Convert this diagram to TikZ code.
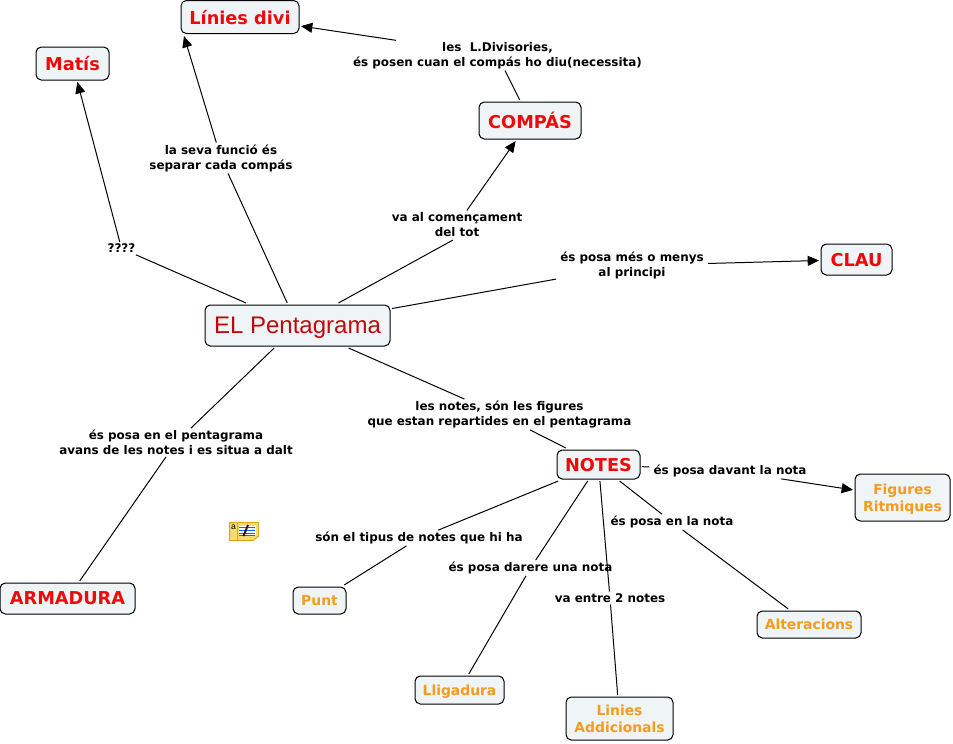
\documentclass[tikz,border=0pt]{standalone}
\usepackage{fontspec}
\setmainfont{DejaVu Sans}
\newfontfamily\pentfont{Liberation Sans}
\usetikzlibrary{arrows.meta}

\definecolor{boxfill}{HTML}{EFF4F6}
\definecolor{notered}{HTML}{EE0A0A}
\definecolor{noteorange}{HTML}{F59B1E}
\definecolor{pentred}{HTML}{BE0A0A}
\definecolor{iconyellow}{HTML}{F8DC70}
\definecolor{iconedge}{HTML}{D8A818}

\begin{document}
\begin{tikzpicture}[x=0.75pt,y=-0.75pt,
	concept/.style 2 args={draw=black,fill=boxfill,rounded corners=4pt,line width=0.75pt,outer sep=1.5pt,align=center,inner sep=0pt,text depth=0pt,minimum width=#1*0.75pt,minimum height=#2*0.75pt},
	mainc/.style={text=notered,font=\fontsize{13.3}{15}\selectfont\bfseries},
	subc/.style={text=noteorange,font=\fontsize{10.4}{12.4}\selectfont\bfseries},
	link/.style={align=center,inner xsep=3pt,inner ysep=1.2pt,font=\fontsize{8.95}{11.3}\selectfont\bfseries},
	line/.style={line width=0.75pt},
	arrow/.style={line width=0.75pt,-{Triangle[length=8.5pt,width=7.5pt]}}]
	\useasboundingbox (0,0) rectangle (953,743);

	% Concepts
	\node[concept={185}{41},text=pentred,font=\fontsize{18}{20}\pentfont] (pent) at (297.5,325.5) {EL Pentagrama};
	\node[concept={73}{33},mainc] (matis) at (72.5,63.5) {Matís};
	\node[concept={118}{33},mainc] (linies) at (240,17) {Línies divi};
	\node[concept={102}{37},mainc] (compas) at (530,120.5) {COMPÁS};
	\node[concept={71}{31},mainc] (clau) at (856.5,259.5) {CLAU};
	\node[concept={83}{29},mainc] (notes) at (598.5,464.5) {NOTES};
	\node[concept={135}{31},mainc] (armadura) at (67.5,598.5) {ARMADURA};
	\node[concept={95}{47},subc] (figures) at (902.5,497.5) {Figures\\Ritmiques};
	\node[concept={104}{27},subc] (alter) at (809,624.5) {Alteracions};
	\node[concept={107}{43},subc] (addic) at (619.5,718.5) {Linies\\Addicionals};
	\node[concept={89}{28},subc] (lliga) at (459.5,690) {Lligadura};
	\node[concept={53}{27},subc] (punt) at (319.5,600.5) {Punt};

	% Linking phrases
	\node[link] (lbldiv) at (497.5,55.5) {les\ \ L.Divisories,\\és posen cuan el compás ho diu(necessita)};
	\node[link] (lblsep) at (221,158) {la seva funció és\\separar cada compás};
	\node[link] (lblq) at (121.5,248.5) {????};
	\node[link] (lblcom) at (457,224.5) {va al començament\\del tot};
	\node[link] (lblpri) at (632,265.5) {és posa més o menys\\al principi};
	\node[link] (lblfig) at (499.5,414.5) {les notes, són les figures\\que estan repartides en el pentagrama};
	\node[link] (lblarm) at (176,442.5) {és posa en el pentagrama\\avans de les notes i es situa a dalt};
	\node[link] (lbltip) at (419,538) {són el tipus de notes que hi ha};
	\node[link] (lbldar) at (530.5,568) {és posa darere una nota};
	\node[link] (lblent) at (610,598) {va entre 2 notes};
	\node[link] (lblen) at (672,522) {és posa en la nota};
	\node[link] (lbldav) at (730,471) {és posa davant la nota};

	% Free ends
	\coordinate (liniesb) at (184,36);
	\coordinate (lblcomb) at (453,240);

	% Draw the lines
	\draw[line] (pent) -- (lblq);
	\draw[arrow] (lblq) -- (matis);
	\draw[line] (pent) -- (lblsep);
	\draw[arrow] (lblsep) -- (liniesb);
	\draw[line] (pent) -- (lblcomb);
	\draw[arrow] (lblcom) -- (compas);
	\draw[line] (compas) -- (lbldiv);
	\draw[arrow] (lbldiv) -- (linies);
	\draw[line] (pent) -- (lblpri);
	\draw[arrow] (lblpri) -- (clau);
	\draw[line] (pent) -- (lblfig);
	\draw[line] (lblfig) -- (notes);
	\draw[line] (pent) -- (lblarm);
	\draw[line] (lblarm) -- (armadura);
	\draw[line] (notes) -- (lbldav);
	\draw[arrow] (lbldav) -- (figures);

	\foreach \lbl/\target in {lbltip/punt, lbldar/lliga, lblent/addic, lblen/alter}
	{
		\draw[line] (notes) -- (\lbl);
		\draw[line] (\lbl) -- (\target);
	}

	% Note icon
	\draw[iconedge,fill=iconyellow,line width=0.75pt] (229.5,522.5) -- (258.5,522.5) -- (258.5,536) -- (253,540.5) -- (229.5,540.5) -- cycle;
	\draw[iconedge,line width=0.5pt] (237,523) -- (237,540);
	\fill[white] (239,526) rectangle (256,535);
	\foreach \y in {527,530,533,535}
	\draw[blue!60!cyan,line width=0.4pt] (239,\y) -- (255,\y);
	\draw[black!70!red,line width=1.4pt] (243.5,536) -- (248,525);
	\node[inner sep=0pt,font=\fontsize{6.5}{7}\pentfont] (icona) at (233.5,527.5) {a};
\end{tikzpicture}
\end{document}
